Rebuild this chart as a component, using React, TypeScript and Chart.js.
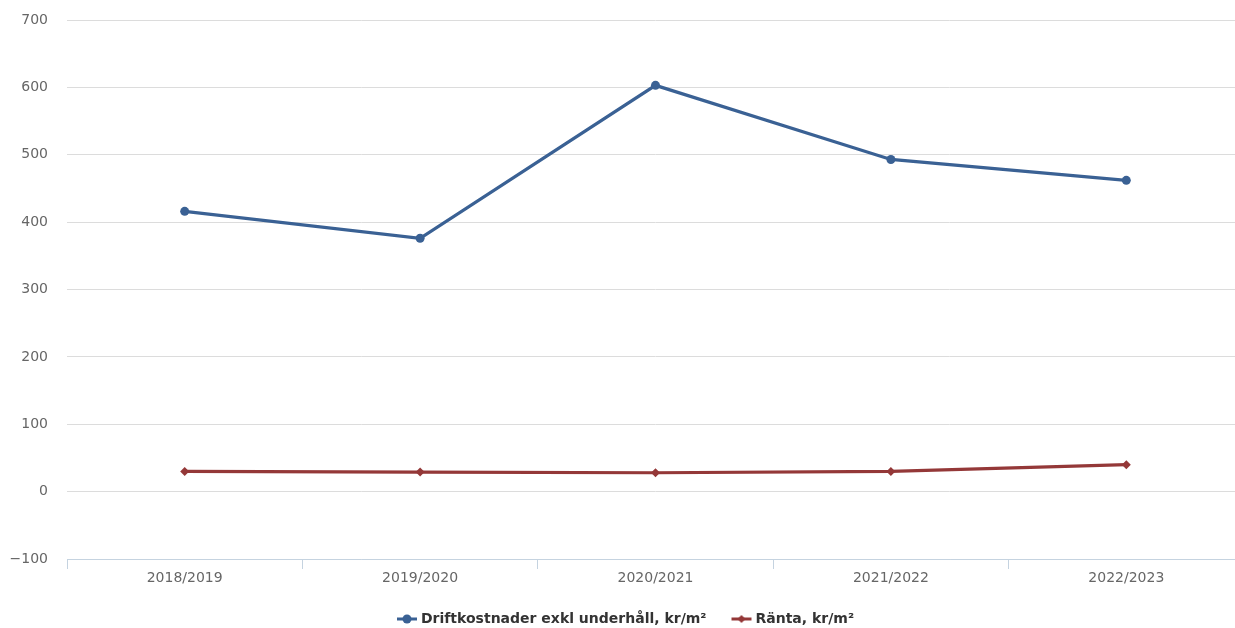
import React, { useEffect, useRef } from "react";
import { Chart, registerables } from "chart.js";

Chart.register(...registerables);

const categories = ["2018/2019", "2019/2020", "2020/2021", "2021/2022", "2022/2023"];
const driftkostnader = [416, 376, 603, 493, 462];
const ranta = [30, 29, 28, 30, 40];
const seriesNames = ["Driftkostnader exkl underhåll, kr/m²", "Ränta, kr/m²"];

const BLUE = "#3a6194";
const RED = "#943838";

function makeMarker(color: string, style: "circle" | "diamond") {
  const c = document.createElement("canvas");
  c.width = 22;
  c.height = 10;
  const ctx = c.getContext("2d")!;
  ctx.strokeStyle = color;
  ctx.lineWidth = 3;
  ctx.beginPath();
  ctx.moveTo(1, 5);
  ctx.lineTo(21, 5);
  ctx.stroke();
  ctx.fillStyle = color;
  ctx.beginPath();
  if (style === "circle") {
    ctx.arc(11, 5, 4.5, 0, Math.PI * 2);
  } else {
    ctx.moveTo(11, 1);
    ctx.lineTo(15, 5);
    ctx.lineTo(11, 9);
    ctx.lineTo(7, 5);
    ctx.closePath();
  }
  ctx.fill();
  return c;
}

const shiftLegend = {
  id: "shiftLegend",
  afterLayout(chart: any) {
    const lg = chart.legend;
    if (lg) {
      const d = 627 - (lg.left + lg.right) / 2;
      lg.left += d;
      lg.right += d;
    }
  },
};

export default function App() {
  const ref = useRef<HTMLCanvasElement>(null);
  useEffect(() => {
    const markers = [makeMarker(BLUE, "circle"), makeMarker(RED, "diamond")];
    const chart = new Chart(ref.current!, {
      type: "line",
      data: {
        labels: categories,
        datasets: [
          {
            label: seriesNames[0],
            data: driftkostnader,
            borderColor: BLUE,
            backgroundColor: BLUE,
            borderWidth: 3.2,
            pointRadius: 4.5,
            pointStyle: "circle",
            pointBorderWidth: 0,
            tension: 0,
          },
          {
            label: seriesNames[1],
            data: ranta,
            borderColor: RED,
            backgroundColor: RED,
            borderWidth: 3.2,
            pointRadius: 4.5,
            pointStyle: "rectRot",
            pointBorderWidth: 0,
            tension: 0,
          },
        ],
      },
      plugins: [shiftLegend],
      options: {
        animation: false,
        responsive: false,
        layout: { autoPadding: false, padding: { top: 20, right: 0, left: 0, bottom: -8 } },
        plugins: {
          tooltip: { enabled: false },
          legend: {
            position: "bottom",
            labels: {
              usePointStyle: true,
              color: "#333333",
              font: { family: "DejaVu Sans", size: 14, weight: "bold" },
              padding: 28,
              generateLabels: (chart: any) =>
                chart.data.datasets.map((ds: any, i: number) => ({
                  text: ds.label,
                  pointStyle: markers[i],
                  fillStyle: ds.borderColor,
                  strokeStyle: ds.borderColor,
                  lineWidth: 0,
                  hidden: false,
                  datasetIndex: i,
                  fontColor: "#333333",
                })),
            },
          },
        },
        scales: {
          x: {
            offset: true,
            afterFit: (s: any) => {
              s.height = 25;
              s.paddingLeft = 0;
              s.paddingRight = 0;
            },
            grid: {
              offset: true,
              drawOnChartArea: false,
              drawTicks: true,
              tickLength: 10,
              color: "#c5d3e0",
            },
            border: { display: true, color: "#c5d3e0", width: 1 },
            ticks: {
              color: "#666666",
              font: { family: "DejaVu Sans", size: 14 },
              padding: 1,
            },
          },
          y: {
            min: -100,
            max: 700,
            afterFit: (s: any) => {
              s.width = 67;
              s.paddingTop = 0;
              s.paddingBottom = 0;
            },
            ticks: {
              stepSize: 100,
              color: "#666666",
              font: { family: "DejaVu Sans", size: 14 },
              padding: 19,
              callback: (v: any) => (Number(v) < 0 ? "\u2212" + Math.abs(Number(v)) : String(v)),
            },
            grid: { color: "#dcdcdc", drawTicks: false },
            border: { display: false },
          },
        },
      },
    });
    return () => chart.destroy();
  }, []);
  return (
    <div
      style={{
        position: "fixed",
        left: 0,
        top: 0,
        width: 1235,
        height: 628,
        overflow: "hidden",
        background: "#fff",
      }}
    >
      <canvas ref={ref} width={1244} height={628} style={{ display: "block" }} />
    </div>
  );
}
